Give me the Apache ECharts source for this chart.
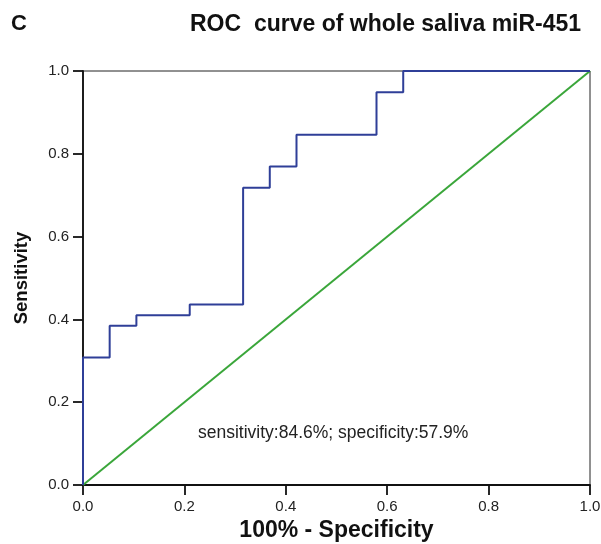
<!DOCTYPE html>
<html><head><meta charset="utf-8">
<script src="https://cdn.jsdelivr.net/npm/echarts@6/dist/echarts.min.js"></script>
<style>html,body{margin:0;padding:0;background:#fff}#c{width:601px;height:544px}</style>
</head><body><div id="c"></div>
<script>
// ROC step points (1 - specificity, sensitivity)
var fpr = [0, 0, 0.0526, 0.0526, 0.1053, 0.1053, 0.2105, 0.2105, 0.3158, 0.3158, 0.3684, 0.3684, 0.4211, 0.4211, 0.5789, 0.5789, 0.6316, 0.6316, 1.0];
var tpr = [0, 0.3077, 0.3077, 0.3846, 0.3846, 0.4103, 0.4103, 0.4359, 0.4359, 0.7179, 0.7179, 0.7692, 0.7692, 0.8462, 0.8462, 0.9487, 0.9487, 1.0, 1.0];
var refX = [0, 1];
var refY = [0, 1];
var tickLabels = ['0.0', '0.2', '0.4', '0.6', '0.8', '1.0'];
var annotation = 'sensitivity:84.6%; specificity:57.9%';

var chart = echarts.init(document.getElementById('c'));
var ff = '"Liberation Sans", Arial, sans-serif';
var axisCommon = {
  type: 'value', min: 0, max: 1, interval: 0.2,
  axisLine: {show: true, lineStyle: {color: '#111', width: 1.8}},
  axisTick: {show: true, length: 10, lineStyle: {color: '#111', width: 1.8}},
  splitLine: {show: false},
  axisLabel: {color: '#222', fontFamily: ff, fontSize: 15,
    formatter: function (v) { return tickLabels[Math.round(v * 5)]; }}
};
chart.setOption({
  animation: false,
  backgroundColor: '#fff',
  grid: {left: 83, right: 11, top: 71, bottom: 59, containLabel: false, outerBoundsMode: 'none',
    show: true, borderColor: '#222', borderWidth: 1},
  graphic: [
    {type: 'text', left: 11, top: 13, style: {text: 'C', font: 'bold 22px ' + ff, fill: '#111'}},
    {type: 'text', left: 190, top: 13, style: {text: 'ROC  curve of whole saliva miR-451', font: 'bold 23px ' + ff, fill: '#111'}},
    {type: 'text', left: 198, top: 424, style: {text: annotation, font: '17.5px ' + ff, fill: '#222'}}
  ],
  xAxis: Object.assign({}, axisCommon, {
    name: '100% - Specificity', nameLocation: 'middle', nameGap: 33,
    nameTextStyle: {fontFamily: ff, fontSize: 23, fontWeight: 'bold', color: '#111'},
    axisLabel: Object.assign({}, axisCommon.axisLabel, {margin: 14})
  }),
  yAxis: Object.assign({}, axisCommon, {
    name: 'Sensitivity', nameLocation: 'middle', nameGap: 52,
    nameTextStyle: {fontFamily: ff, fontSize: 18.5, fontWeight: 'bold', color: '#111'},
    axisLabel: Object.assign({}, axisCommon.axisLabel, {margin: 14})
  }),
  series: [
    {type: 'line', data: refX.map(function (x, i) { return [x, refY[i]]; }),
      symbol: 'none', lineStyle: {color: '#3aa63a', width: 2}, z: 2},
    {type: 'line', data: fpr.map(function (x, i) { return [x, tpr[i]]; }),
      symbol: 'none', lineStyle: {color: '#2f3f98', width: 2}, z: 3}
  ]
});
</script></body></html>
